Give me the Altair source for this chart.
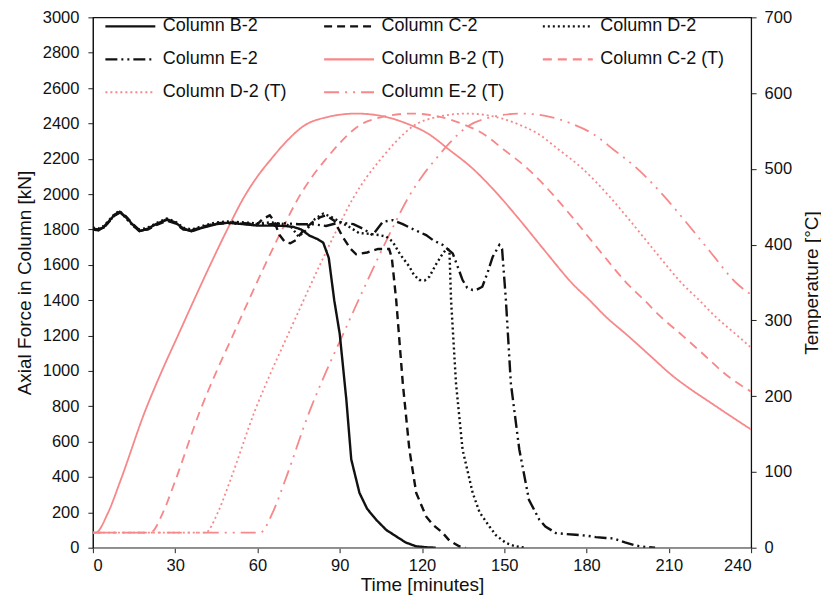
import altair as alt
import pandas as pd

# ---------------- data ----------------
SERIES = ["Column B-2", "Column C-2", "Column D-2", "Column E-2",
          "Column B-2 (T)", "Column C-2 (T)", "Column D-2 (T)", "Column E-2 (T)"]

# Axial force [kN] vs time [min]
B2_t = [0, 2, 4, 6, 8, 9.8, 12, 15, 17, 20, 23, 27, 30, 33, 36, 40, 45, 49, 55, 60, 65, 70,
        73, 76, 79, 82, 84, 86, 88, 90, 92.4, 94.2, 97.2, 100, 103.3, 107, 110.6, 114, 117.8, 122, 125]
B2_f = [1800, 1795, 1815, 1850, 1885, 1900, 1870, 1820, 1790, 1805, 1830, 1858, 1840, 1805, 1790, 1810, 1830, 1838, 1830, 1822, 1822, 1820,
        1815, 1800, 1765, 1745, 1725, 1640, 1400, 1210, 840, 500, 310, 220, 158, 100, 64, 30, 8, 2, 0]

C2_t = [0, 2, 4, 6, 8, 9.8, 12, 15, 17, 20, 23, 27, 30, 33, 36, 40, 45, 49, 55, 60, 62, 64.5, 66, 68, 70, 72, 74, 77, 80, 83, 85,
        88, 91, 94, 96, 100, 104, 108, 109, 110.6, 113, 115.4, 117.9, 121.5, 124, 127.6, 130, 133.6, 136]
C2_f = [1805, 1800, 1810, 1845, 1880, 1895, 1875, 1825, 1795, 1800, 1825, 1850, 1835, 1800, 1795, 1815, 1835, 1840, 1835, 1830, 1860, 1880, 1850, 1770, 1730, 1722, 1740, 1800, 1840, 1870, 1880,
        1850, 1760, 1690, 1660, 1670, 1690, 1690, 1640, 1400, 930, 555, 310, 177, 130, 83, 40, 8, 0]

D2_t = [0, 2, 4, 6, 8, 9.8, 12, 15, 17, 20, 23, 27, 30, 33, 36, 40, 45, 49, 55, 60, 65, 70, 72, 75, 78, 81, 84, 87, 91, 94, 97,
        101, 104.5, 107, 109.3, 112, 115.4, 117, 119, 121, 122.7, 125, 127.6, 129, 130, 130.6, 132.4, 134.8, 138.5, 141, 144.6,
        147, 150.6, 154, 158]
D2_f = [1810, 1805, 1820, 1855, 1890, 1905, 1865, 1815, 1800, 1810, 1835, 1862, 1845, 1810, 1800, 1820, 1840, 1845, 1840, 1835, 1840, 1830, 1820, 1760, 1800, 1860, 1890, 1870, 1836, 1810, 1780,
        1775, 1768, 1760, 1731, 1660, 1590, 1545, 1514, 1512, 1533, 1600, 1665, 1690, 1684, 1400, 930, 554, 309, 200, 120,
        70, 27, 8, 0]

E2_t = [0, 2, 4, 6, 8, 9.8, 12, 15, 17, 20, 23, 27, 30, 33, 36, 40, 45, 49, 55, 60, 65, 70, 75, 80, 85, 90, 95, 99, 102, 105.7,
        109.3, 113, 117, 121.5, 124, 127.6, 131.2, 133, 134.8, 136.5, 138.5, 140, 142, 144, 145.8, 148.2, 149.2, 150.6, 152.4,
        155.5, 159, 162.8, 165, 168.8, 172, 176, 180, 183.4, 187, 190, 194, 198, 202, 205]
E2_f = [1800, 1800, 1812, 1848, 1882, 1898, 1868, 1818, 1792, 1802, 1828, 1855, 1838, 1802, 1792, 1812, 1832, 1836, 1832, 1826, 1830, 1835, 1830, 1830, 1820, 1840, 1830, 1800, 1768, 1843,
        1853, 1830, 1800, 1768, 1740, 1712, 1665, 1590, 1514, 1470, 1458, 1460, 1476, 1560, 1646, 1712, 1690, 1400, 930,
        554, 271, 158, 120, 83, 78, 73, 68, 60, 55, 52, 30, 12, 3, 0]

# Temperature [°C] vs time [min]
B2T_t = [0, 1, 5.5, 10, 19, 25, 31, 37, 43, 49, 55, 60, 65, 70, 77, 85, 96, 105, 115, 122, 130, 138, 148, 156, 165,
         175, 181, 187, 195, 203, 211, 218, 225, 232, 240]
B2T_v = [20, 20, 46, 88, 180, 232, 280, 328, 375, 420, 462, 490, 513, 534, 557, 568, 573, 570, 559, 547, 525, 502, 465, 431, 391,
         348, 327, 305, 280, 254, 228, 209, 192, 175, 156]

C2T_t = [0, 21, 25.5, 30, 39, 45, 51, 57, 63, 69, 75, 80, 85, 90, 97, 105, 116, 125, 135, 142, 150, 158, 168, 176, 185,
         195, 201, 207, 215, 223, 231, 240]
C2T_v = [20, 20, 46, 88, 180, 232, 280, 328, 375, 420, 462, 490, 513, 534, 557, 568, 573, 570, 559, 547, 525, 502, 465, 431, 391,
         348, 327, 305, 280, 254, 228, 206]

D2T_t = [0, 41, 45.5, 50, 59, 65, 71, 77, 83, 89, 95, 100, 105, 110, 117, 125, 136, 145, 155, 162, 170, 178, 188, 196, 205,
         215, 221, 227, 235, 240]
D2T_v = [20, 20, 46, 88, 180, 232, 280, 328, 375, 420, 462, 490, 513, 534, 557, 568, 573, 570, 559, 547, 525, 502, 465, 431, 391,
         348, 327, 305, 280, 264]

E2T_t = [0, 61, 65.5, 70, 79, 85, 91, 97, 103, 109, 115, 120, 125, 130, 137, 145, 156, 165, 175, 182, 190, 198, 208, 216, 225,
         235, 240]
E2T_v = [20, 20, 46, 88, 180, 232, 280, 328, 375, 420, 462, 490, 513, 534, 557, 568, 573, 570, 559, 547, 525, 502, 465, 431, 391,
         348, 334]

X_TICKS = [0, 30, 60, 90, 120, 150, 180, 210, 240]
F_TICKS = list(range(0, 3001, 200))
T_TICKS = list(range(0, 701, 100))

# ---------------- tables ----------------
force_rows = []
for name, ts, vs in [("Column B-2", B2_t, B2_f), ("Column C-2", C2_t, C2_f),
                     ("Column D-2", D2_t, D2_f), ("Column E-2", E2_t, E2_f)]:
    for t, v in zip(ts, vs):
        force_rows.append({"series": name, "t": t, "v": v})
df_force = pd.DataFrame(force_rows)

temp_rows = []
for name, ts, vs in [("Column B-2 (T)", B2T_t, B2T_v), ("Column C-2 (T)", C2T_t, C2T_v),
                     ("Column D-2 (T)", D2T_t, D2T_v), ("Column E-2 (T)", E2T_t, E2T_v)]:
    for t, v in zip(ts, vs):
        temp_rows.append({"series": name, "t": t, "T": v})
df_temp = pd.DataFrame(temp_rows)

BLACK = "#111111"
RED = "#f7888a"
colors = [BLACK] * 4 + [RED] * 4
dashes = [[1, 0], [8, 5], [2, 3], [12, 4, 2, 4, 2, 4],
          [1, 0], [9, 6], [2, 3], [15, 6, 2, 6, 2, 6]]

FONT = "Liberation Sans"

color_enc = alt.Color("series:N", scale=alt.Scale(domain=SERIES, range=colors),
                      legend=alt.Legend(title=None, orient="none", legendX=11, legendY=-1,
                                        direction="horizontal", columns=3, gridAlign="all",
                                        symbolType="stroke", symbolSize=2500, clipHeight=20,
                                        symbolStrokeWidth=2.2, labelFontSize=18, labelFont=FONT,
                                        labelColor="#111", labelOffset=6, columnPadding=35,
                                        rowPadding=13, labelLimit=300))
dash_enc = alt.StrokeDash("series:N", scale=alt.Scale(domain=SERIES, range=dashes), legend=None)

x_enc = alt.X("t:Q", scale=alt.Scale(domain=[0, 240], nice=False),
              axis=alt.Axis(values=X_TICKS, title="Time [minutes]", grid=False,
                            domainColor="#999999", tickColor="#222", tickSize=5,
                            labelFontSize=16.5, labelFont=FONT, labelColor="#111", labelPadding=5,
                            titleFontSize=19, titleFont=FONT, titleFontWeight="normal",
                            titleColor="#111", titlePadding=1))

force = alt.Chart(df_force).mark_line(strokeWidth=2.4, clip=True).encode(
    x=x_enc,
    y=alt.Y("v:Q", scale=alt.Scale(domain=[0, 3000], nice=False),
            axis=alt.Axis(values=F_TICKS, format="d", title="Axial Force in Column [kN]", grid=False,
                          domainColor="#111", tickColor="#222", tickSize=5,
                          labelFontSize=16.5, labelFont=FONT, labelColor="#111", labelPadding=9,
                          titleFontSize=19, titleFont=FONT, titleFontWeight="normal",
                          titleColor="#111", titlePadding=8)),
    color=color_enc,
    strokeDash=dash_enc,
    detail="series:N",
)

temp = alt.Chart(df_temp).mark_line(strokeWidth=1.8, interpolate="monotone", clip=True).encode(
    x=alt.X("t:Q", scale=alt.Scale(domain=[0, 240], nice=False)),
    y=alt.Y("T:Q", scale=alt.Scale(domain=[0, 700], nice=False),
            axis=alt.Axis(orient="right", values=T_TICKS, format="d", title="Temperature [°C]", grid=False,
                          domainColor="#111", tickColor="#222", tickSize=5,
                          labelFontSize=16.5, labelFont=FONT, labelColor="#111", labelPadding=8,
                          titleFontSize=19, titleFont=FONT, titleFontWeight="normal",
                          titleColor="#111", titleAngle=270, titlePadding=30)),
    color=color_enc,
    strokeDash=dash_enc,
    detail="series:N",
)

chart = alt.layer(temp, force).resolve_scale(y="independent").properties(
    width=659, height=531,
    autosize=alt.AutoSizeParams(type="none"),
    padding={"left": 85, "top": 9, "right": 70, "bottom": 48},
    background="white",
).configure_view(stroke="#111", strokeWidth=1.2)

chart.save("out.html", embed_options={"renderer": "svg", "actions": False})
